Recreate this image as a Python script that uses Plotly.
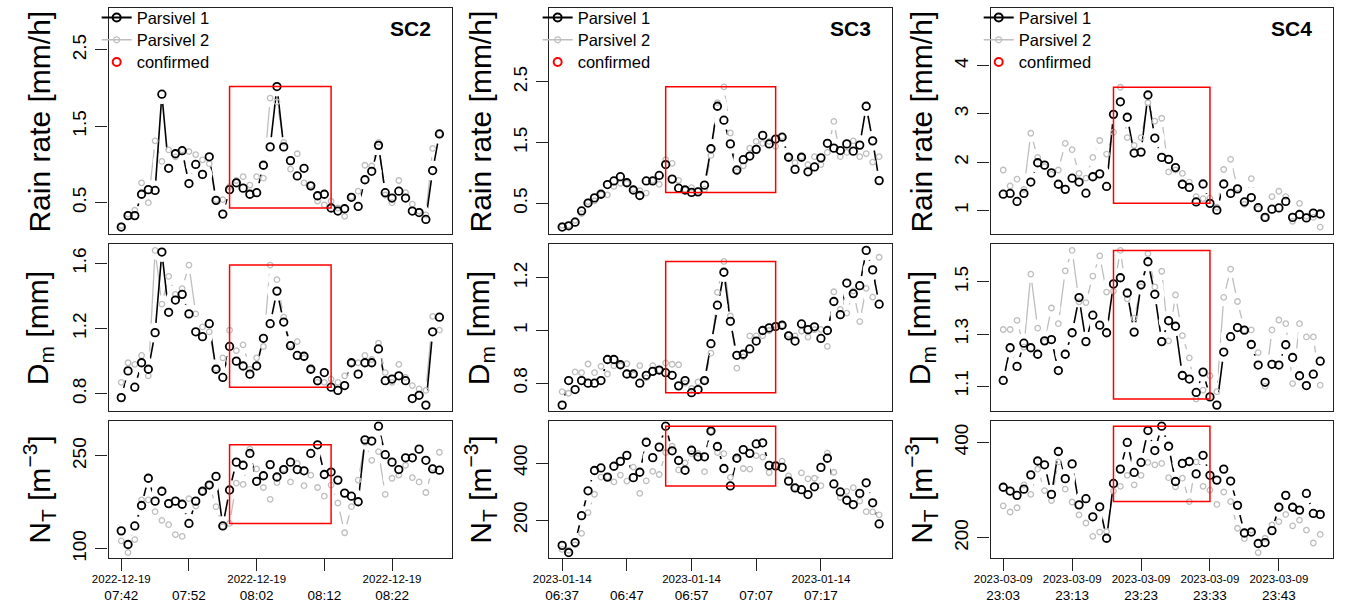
import plotly.graph_objects as go
import pandas as pd

W, H = 1347, 613
FONT = "Liberation Sans, Arial, Helvetica, sans-serif"
GREY = "#BEBEBE"

# ---------------- data ----------------
stations = ["SC2", "SC3", "SC4"]
start_times = ["2022-12-19 07:42", "2023-01-14 06:37", "2023-03-09 23:03"]
tick_minutes = [0, 10, 20, 30, 40]
tick_dates = [["2022-12-19", "", "2022-12-19", "", "2022-12-19"],
              ["2023-01-14", "", "2023-01-14", "", "2023-01-14"],
              ["2023-03-09", "2023-03-09", "2023-03-09", "2023-03-09", "2023-03-09"]]
tick_times = [["07:42", "07:52", "08:02", "08:12", "08:22"],
              ["06:37", "06:47", "06:57", "07:07", "07:17"],
              ["23:03", "23:13", "23:23", "23:33", "23:43"]]
confirmed_windows = [(16, 31), (16, 33), (16, 30)]  # minute index of confirmed window

sc2_rain_p1 = [0.18,0.33,0.33,0.61,0.67,0.66,1.92,0.95,1.14,1.18, 0.75,1.00,0.87,1.10,0.53,0.35,0.67,0.76,0.69,0.61,
               0.63,0.99,1.23,2.02,1.23,1.05,0.85,0.95,0.72,0.59, 0.61,0.43,0.39,0.42,0.57,0.45,0.80,0.91,1.25,0.63,
               0.56,0.65,0.56,0.39,0.37,0.28,0.92,1.40]
sc2_rain_p2 = [0.20,0.35,0.40,0.76,0.50,1.31,1.04,1.19,1.10,1.19, 1.17,1.13,1.06,1.01,0.54,0.54,0.71,0.79,0.84,0.73,
               0.84,0.82,1.87,1.82,1.29,0.94,1.14,0.76,0.73,0.52, 0.47,0.52,0.43,0.32,0.58,0.65,0.99,0.98,1.29,0.60,
               0.50,0.79,0.63,0.48,0.39,0.34,1.21,1.40]
sc2_dm_p1 = [0.776,0.94,0.84,0.99,0.95,1.175,1.67,1.30,1.375,1.41, 1.29,1.18,1.15,1.23,0.95,0.90,1.09,1.00,0.97,0.92,
             0.97,1.14,1.23,1.43,1.24,1.095,1.035,1.03,0.95,0.88, 0.93,0.84,0.82,0.85,0.99,0.92,0.99,0.99,1.075,0.88,
             0.89,0.91,0.88,0.77,0.79,0.73,1.18,1.27]
sc2_dm_p2 = [0.87,0.99,0.98,1.035,0.91,1.68,1.35,1.52,1.41,1.445, 1.59,1.29,1.21,1.18,0.955,1.02,1.19,1.065,1.10,0.95,
             1.02,1.09,1.59,1.50,1.27,1.10,1.12,1.02,0.95,0.87, 0.87,0.89,0.87,0.91,0.99,0.99,1.035,1.01,1.11,0.93,
             0.87,0.98,0.90,0.85,0.83,0.82,1.275,1.19]
sc2_nt_p1 = [129,107,137,170,214,177,193,173,177,172, 141,177,193,203,217,137,195,240,235,254,
             209,218,236,216,228,240,228,226,254,268, 220,224,211,190,185,176,276,274,298,252,
             240,228,247,247,261,243,229,227]
sc2_nt_p2 = [113,94,115,179,179,160,146,139,123,120, 181,169,193,203,168,136,141,206,204,261,
             229,199,180,207,229,208,238,202,219,199, 185,203,174,126,168,211,272,243,257,188,
             214,219,235,215,208,191,231,256]

sc3_rain_p1 = [0.11,0.13,0.19,0.375,0.505,0.59,0.65,0.81,0.87,0.94, 0.84,0.72,0.63,0.87,0.87,0.96,1.14,0.90,0.75,0.72,
               0.68,0.69,0.80,1.40,2.10,1.87,1.48,1.05,1.22,1.28, 1.39,1.62,1.48,1.56,1.59,1.26,1.06,1.26,1.02,1.10,
               1.25,1.49,1.41,1.37,1.48,1.36,1.46,2.10,1.53,0.875]
sc3_rain_p2 = [0.14,0.14,0.22,0.33,0.53,0.54,0.65,0.64,0.78,0.83, 0.83,0.74,0.71,0.67,0.88,0.815,1.22,1.16,0.88,0.73,
               0.76,0.71,0.73,1.29,2.16,2.42,1.66,1.02,1.12,1.41, 1.52,1.49,1.52,1.44,1.60,1.27,1.17,1.27,1.14,1.27,
               1.14,1.34,1.85,1.27,1.34,1.53,1.27,1.32,1.18,1.27]
sc3_dm_p1 = [0.717,0.81,0.776,0.81,0.80,0.80,0.81,0.89,0.89,0.87, 0.835,0.835,0.80,0.83,0.845,0.85,0.84,0.83,0.79,0.81,
             0.764,0.776,0.81,0.95,1.096,1.221,1.035,0.906,0.91,0.93, 0.96,1.00,1.01,1.015,1.02,0.98,0.96,1.025,1.003,1.014,
             0.97,1.00,1.11,1.06,1.18,1.14,1.17,1.304,1.23,1.10]
sc3_dm_p2 = [0.768,0.762,0.843,0.84,0.873,0.84,0.864,0.835,0.866,0.867, 0.874,0.832,0.867,0.82,0.867,0.85,0.877,0.872,0.87,0.80,
             0.78,0.805,0.81,0.914,1.145,1.262,1.055,0.857,0.90,0.98, 0.98,0.98,1.00,1.02,1.02,0.985,0.98,0.998,0.975,1.003,
             1.004,0.94,1.147,1.08,1.066,1.15,1.034,1.16,1.127,1.278]
sc3_nt_p1 = [112,87,122,216,303,374,383,351,389,406, 427,349,368,473,419,456,529,443,409,375,
             445,422,422,512,458,381,320,417,447,434, 467,471,392,390,385,337,313,307,290,317,
             385,417,327,299,270,255,294,331,261,187]
sc3_nt_p2 = [98,95,114,154,227,291,351,352,334,358, 337,386,294,338,371,360,437,459,376,401,
             433,434,370,512,437,433,350,414,381,379, 426,421,367,390,407,355,314,366,345,347,
             321,435,368,280,301,314,267,230,229,219]

sc4_rain_p1 = [1.34,1.355,1.19,1.355,1.59,1.99,1.94,1.78,1.545,1.44, 1.67,1.59,1.36,1.70,1.76,1.50,2.99,3.25,2.93,2.19,
               2.21,3.39,2.50,2.10,2.06,1.89,1.545,1.48,1.18,1.55, 1.15,1.01,1.55,1.355,1.45,1.18,1.27,1.06,0.86,1.03,
               1.055,1.19,0.86,0.92,0.85,0.95,0.93]
sc4_rain_p2 = [1.84,1.51,1.65,1.44,2.60,2.10,1.91,1.75,1.84,2.39, 2.26,1.77,1.67,2.10,2.45,2.17,2.62,3.55,2.51,2.35,
               2.51,3.23,2.85,2.91,1.80,1.84,1.77,1.59,1.29,1.25, 1.26,1.07,1.85,2.06,1.47,1.13,1.66,1.04,0.86,1.29,
               1.40,1.29,0.78,1.15,0.88,0.86,0.66]
sc4_dm_p1 = [1.122,1.2475,1.176,1.265,1.2475,1.2225,1.274,1.279,1.16,1.2225, 1.305,1.44,1.271,1.3725,1.334,1.305,1.4925,1.516,1.4575,1.3075,
             1.489,1.5775,1.4525,1.271,1.351,1.33,1.141,1.1275,1.076,1.154, 1.059,1.0275,1.231,1.29,1.325,1.315,1.26,1.181,1.115,1.184,
             1.181,1.259,1.21,1.14,1.1025,1.146,1.196]
sc4_dm_p2 = [1.3175,1.3175,1.3525,1.25,1.53,1.3225,1.271,1.40,1.34,1.5425, 1.621,1.424,1.421,1.5225,1.60,1.461,1.465,1.621,1.435,1.361,
             1.481,1.609,1.481,1.541,1.274,1.45,1.294,1.209,1.051,1.085, 1.14,1.079,1.441,1.549,1.425,1.316,1.316,1.229,1.099,1.316,
             1.354,1.34,1.11,1.34,1.289,1.289,1.104]
sc4_nt_p1 = [306,298,289,302,332,361,353,291,381,324, 355,269,282,244,265,199,314,344,400,337,
             358,425,383,434,392,318,356,360,334,373, 331,321,344,319,268,210,212,188,190,215,
             264,289,264,258,293,251,249]
sc4_nt_p2 = [267,254,263,311,291,344,299,278,359,302, 275,248,231,203,212,213,298,308,331,311,
             331,358,353,356,326,307,325,276,359,308, 300,270,296,276,220,198,216,169,199,227,
             234,249,225,237,216,189,207]

y_titles = ["Rain rate [mm/h]", "D<sub>m</sub> [mm]", "N<sub>T</sub> [m<sup>−3</sup>]"]
rain_ranges = [(0.085, 3.05), (-0.01, 3.72), (0.51, 5.19)]
y_tickvals = [[[0.5, 1.5, 2.5], [0.5, 1.5, 2.5], [1, 2, 3, 4]],
              [[0.8, 1.2, 1.6], [0.8, 1.0, 1.2], [1.1, 1.3, 1.5]],
              [[100, 250], [200, 400], [200, 400]]]
y_ticktext = [[["0.5", "1.5", "2.5"], ["0.5", "1.5", "2.5"], ["1", "2", "3", "4"]],
              [["0.8", "1.2", "1.6"], ["0.8", "1", "1.2"], ["1.1", "1.3", "1.5"]],
              [["100", "250"], ["200", "400"], ["200", "400"]]]
legend_labels = ["Parsivel 1", "Parsivel 2", "confirmed"]

series = [  # [row][col] -> (parsivel1, parsivel2)
    [(sc2_rain_p1, sc2_rain_p2), (sc3_rain_p1, sc3_rain_p2), (sc4_rain_p1, sc4_rain_p2)],
    [(sc2_dm_p1, sc2_dm_p2), (sc3_dm_p1, sc3_dm_p2), (sc4_dm_p1, sc4_dm_p2)],
    [(sc2_nt_p1, sc2_nt_p2), (sc3_nt_p1, sc3_nt_p2), (sc4_nt_p1, sc4_nt_p2)],
]

# ---------------- layout geometry (pixels) ----------------
col_px = [(92.7, 440.7), (539.3, 886.0), (986.0, 1332.7)]
row_px = [(5, 234), (244, 413), (423, 561)]
legend_row_px = [15, 37.5, 60]

fig = go.Figure()
layout = dict(
    width=W, height=H, margin=dict(l=0, r=0, t=0, b=0),
    paper_bgcolor="white", plot_bgcolor="white",
    font=dict(family=FONT, color="black"),
    shapes=[], annotations=[],
)

legend_count = 0
for c in range(3):
    n = len(series[0][c][0])
    times = pd.date_range(start_times[c], periods=n, freq="min")
    pad = pd.Timedelta(minutes=0.04 * (n - 1))
    xr = [str(times[0] - pad), str(times[-1] + pad)]
    tvals = [str(times[m]) for m in tick_minutes]
    ttext = []
    for d, t in zip(tick_dates[c], tick_times[c]):
        top = d if d else "\u00a0"
        ttext.append(f"<span style='font-size:11.5px'>{top}</span><br>{t}")
    w0, w1 = confirmed_windows[c]

    for r in range(3):
        idx = r * 3 + c + 1
        xa = "x" if idx == 1 else f"x{idx}"
        ya = "y" if idx == 1 else f"y{idx}"
        p1, p2 = series[r][c]

        common = dict(x=times, xaxis=xa, yaxis=ya, showlegend=False, hoverinfo="skip")
        # lines with gaps around points (R type="b" look): white halos erase the line ends
        fig.add_trace(go.Scatter(y=p2, mode="lines", line=dict(color=GREY, width=1.3), **common))
        fig.add_trace(go.Scatter(y=p2, mode="markers", marker=dict(symbol="circle", color="white", size=18), **common))
        fig.add_trace(go.Scatter(y=p1, mode="lines", line=dict(color="black", width=1.6), **common))
        fig.add_trace(go.Scatter(y=p1, mode="markers", marker=dict(symbol="circle", color="white", size=20), **common))
        fig.add_trace(go.Scatter(y=p2, mode="markers",
                                 marker=dict(symbol="circle-open", color=GREY, size=5.5, line=dict(width=1.3)), **common))
        fig.add_trace(go.Scatter(y=p1, mode="markers",
                                 marker=dict(symbol="circle-open", color="black", size=7.5, line=dict(width=1.8)), **common))

        # confirmed box: from min to max of both instruments within confirmed window
        win_vals = list(p1[w0:w1 + 1]) + list(p2[w0:w1 + 1])
        layout["shapes"].append(dict(type="rect", xref=xa, yref=ya,
                                     x0=str(times[w0]), x1=str(times[w1]),
                                     y0=min(win_vals), y1=max(win_vals),
                                     line=dict(color="red", width=1.5), layer="above"))

        # y range
        if r == 0:
            yr = list(rain_ranges[c])
        else:
            lo, hi = min(min(p1), min(p2)), max(max(p1), max(p2))
            sp = hi - lo
            yr = [lo - 0.04 * sp, hi + 0.04 * sp]

        x0p, x1p = col_px[c]
        y0p, y1p = row_px[r]
        xdom = [x0p / W, x1p / W]
        ydom = [1 - y1p / H, 1 - y0p / H]
        xkey = "xaxis" if idx == 1 else f"xaxis{idx}"
        ykey = "yaxis" if idx == 1 else f"yaxis{idx}"
        xaxis = dict(domain=xdom, anchor=ya, range=xr, type="date",
                     showline=True, mirror=True, linecolor="#222", linewidth=1.3,
                     showgrid=False, zeroline=False)
        if r == 2:
            xaxis.update(ticks="outside", ticklen=12, tickwidth=1.2, tickcolor="#222",
                         tickmode="array", tickvals=tvals, ticktext=ttext,
                         tickfont=dict(size=13.5, family=FONT, color="black"), tickangle=0,
                         ticklabelstandoff=-4)
        else:
            xaxis.update(ticks="", showticklabels=False)
        layout[xkey] = xaxis
        layout[ykey] = dict(domain=ydom, anchor=xa, range=yr,
                            showline=True, mirror=True, linecolor="#222", linewidth=1.3,
                            showgrid=False, zeroline=False,
                            ticks="outside", ticklen=12, tickwidth=1.2, tickcolor="#222",
                            tickmode="array", tickvals=y_tickvals[r][c], ticktext=y_ticktext[r][c],
                            tickangle=-90, tickfont=dict(size=19, family=FONT, color="black"),
                            ticklabelstandoff=2)

        layout["annotations"].append(dict(
            text=y_titles[r], textangle=-90, xref="paper", yref="paper",
            x=(x0p - 70) / W, y=1 - (y0p + y1p) / 2 / H, xanchor="center", yanchor="middle",
            showarrow=False, font=dict(size=30, family=FONT, color="black")))

        if r == 0:
            layout["annotations"].append(dict(
                text=f"<b>{stations[c]}</b>", xref="paper", yref="paper",
                x=(x1p - 19) / W, y=1 - 26 / H, xanchor="right", yanchor="middle",
                showarrow=False, font=dict(size=21, family=FONT, color="black")))
            # legend entries, one legend box per entry so each sits at its own row
            entries = [
                dict(mode="lines+markers", line=dict(color="black", width=2),
                     marker=dict(symbol="circle-open", color="black", size=8, line=dict(width=2))),
                dict(mode="lines+markers", line=dict(color=GREY, width=1.5),
                     marker=dict(symbol="circle-open", color=GREY, size=6, line=dict(width=1.2))),
                dict(mode="markers",
                     marker=dict(symbol="circle-open", color="red", size=8, line=dict(width=2))),
            ]
            for k, (lab, style) in enumerate(zip(legend_labels, entries)):
                legend_count += 1
                lname = "legend" if legend_count == 1 else f"legend{legend_count}"
                fig.add_trace(go.Scatter(x=[None], y=[None], xaxis=xa, yaxis=ya, name=lab,
                                         legend=lname, showlegend=True, **style))
                layout[lname] = dict(x=(x0p - 12) / W, y=1 - legend_row_px[k] / H,
                                     xanchor="left", yanchor="middle",
                                     bgcolor="rgba(0,0,0,0)", borderwidth=0,
                                     font=dict(size=16.5, family=FONT, color="black"),
                                     tracegroupgap=0, itemwidth=30)

fig.update_layout(**layout)
fig.write_html("out.html", config={"displayModeBar": False},
               post_script="document.body.style.margin='0px';")
